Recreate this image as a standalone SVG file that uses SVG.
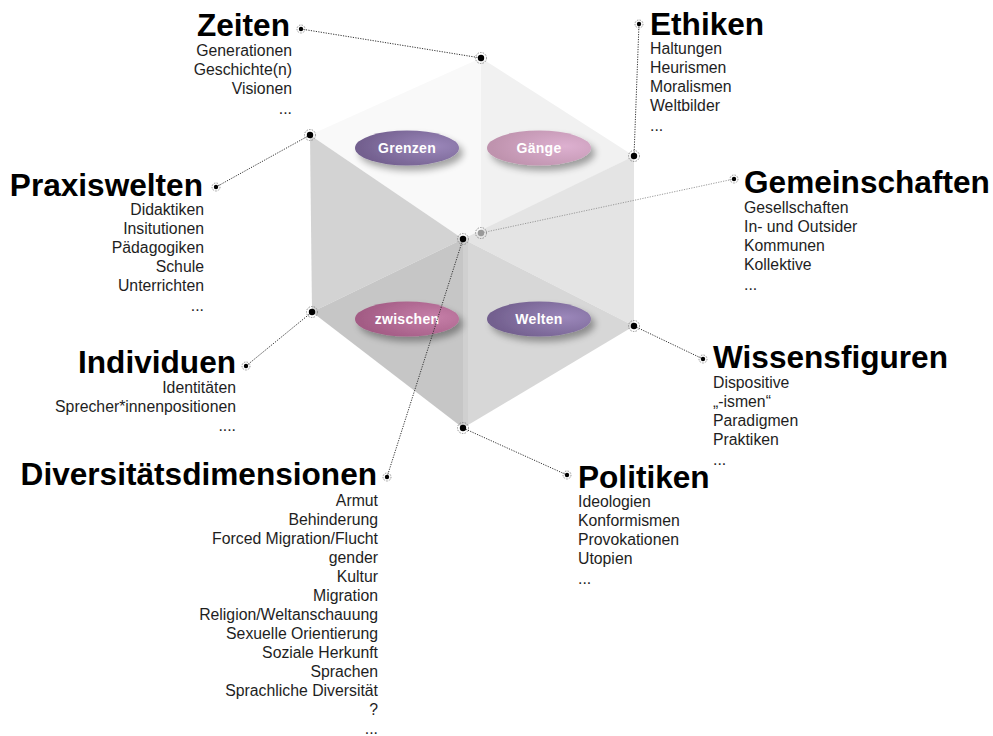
<svg xmlns="http://www.w3.org/2000/svg" width="993" height="736" viewBox="0 0 993 736">
<style>
.h{font-family:"Liberation Sans",Arial,sans-serif;font-weight:bold;font-size:31.6px;fill:#000}
.s{font-family:"Liberation Sans",Arial,sans-serif;font-size:15.8px;fill:#1e1e1e}
.e{text-anchor:end}
.el{font-family:"Liberation Sans",Arial,sans-serif;font-weight:bold;font-size:14px;fill:#fff;text-anchor:middle;letter-spacing:0.3px}
.c{fill:none;stroke:#333;stroke-width:1;stroke-dasharray:1.2 1.3}
.cg{fill:none;stroke:#9a9a9a;stroke-width:1;stroke-dasharray:1.2 1.3}
.ring{fill:none;stroke:#777;stroke-width:0.8;stroke-dasharray:1.5 1.2}
</style>
<defs>
<filter id="sh" x="-30%" y="-50%" width="160%" height="220%">
<feGaussianBlur in="SourceAlpha" stdDeviation="3.5"/>
<feOffset dx="4" dy="5" result="b"/>
<feComponentTransfer><feFuncA type="linear" slope="0.35"/></feComponentTransfer>
<feMerge><feMergeNode/><feMergeNode in="SourceGraphic"/></feMerge>
</filter>
<radialGradient id="gPur" cx="0.75" cy="0.45" r="0.7">
<stop offset="0" stop-color="#9b87ba"/><stop offset="1" stop-color="#73608f"/>
</radialGradient>
<radialGradient id="gPink" cx="0.75" cy="0.45" r="0.7">
<stop offset="0" stop-color="#ddb0d0"/><stop offset="1" stop-color="#bf93ae"/>
</radialGradient>
<radialGradient id="gMag" cx="0.75" cy="0.45" r="0.7">
<stop offset="0" stop-color="#c67fa8"/><stop offset="1" stop-color="#a35c85"/>
</radialGradient>
</defs>
<rect width="993" height="736" fill="#fff"/>

<g id="cube">
<polygon points="481,58 310,135 463,239 481,232" fill="#f9f9f9"/>
<polygon points="481,58 634,156 481,232" fill="#f1f1f1"/>
<polygon points="310,135 463,239 312,312" fill="#d3d3d3"/>
<polygon points="312,312 463,239 463,428" fill="#c6c6c6"/>
<polygon points="463,239 634,156 634,326" fill="#e4e4e4"/>
<polygon points="463,239 634,326 463,428" fill="#d7d7d7"/>
<polygon points="463,239 468,237 468,425 463,428" fill="#000" opacity="0.03"/>
</g>

<g id="grenzen">
<ellipse cx="407" cy="148" rx="52" ry="17.5" fill="url(#gPur)" filter="url(#sh)"/>
<text class="el" x="407" y="153">Grenzen</text>
</g>
<g id="gaenge">
<ellipse cx="539" cy="148" rx="52" ry="17.5" fill="url(#gPink)" filter="url(#sh)"/>
<text class="el" x="539" y="153">Gänge</text>
</g>
<g id="zwischen">
<ellipse cx="407" cy="319" rx="52" ry="17.5" fill="url(#gMag)" filter="url(#sh)"/>
<text class="el" x="407" y="324">zwischen</text>
</g>
<g id="welten">
<ellipse cx="539" cy="319" rx="52" ry="17.5" fill="url(#gPur)" filter="url(#sh)"/>
<text class="el" x="539" y="324">Welten</text>
</g>

<g id="connectors">
<line class="c" x1="301" y1="29" x2="481" y2="58"/>
<line class="c" x1="216" y1="187" x2="310" y2="135"/>
<line class="c" x1="246" y1="366" x2="312" y2="312"/>
<line class="c" x1="387" y1="477" x2="463" y2="239"/>
<line class="c" x1="639" y1="24" x2="634" y2="156"/>
<line class="cg" x1="734" y1="179" x2="481" y2="233"/>
<line class="c" x1="703" y1="359" x2="634" y2="326"/>
<line class="c" x1="567" y1="475" x2="463" y2="428"/>
</g>

<g id="dots">
<g fill="#000">
<circle cx="481" cy="58" r="3.2"/><circle cx="310" cy="135" r="3.2"/><circle cx="463" cy="239" r="3.2"/>
<circle cx="634" cy="156" r="3.2"/><circle cx="312" cy="312" r="3.2"/><circle cx="634" cy="326" r="3.2"/>
<circle cx="463" cy="428" r="3.2"/>
<circle cx="301" cy="29" r="2.2"/><circle cx="216" cy="187" r="2.2"/><circle cx="246" cy="366" r="2.2"/>
<circle cx="387" cy="477" r="2.2"/><circle cx="639" cy="24" r="2.2"/><circle cx="734" cy="179" r="2.2"/>
<circle cx="703" cy="359" r="2.2"/><circle cx="567" cy="475" r="2.2"/>
</g>
<circle cx="481" cy="233" r="3.2" fill="#999"/>
<g class="ring">
<circle cx="481" cy="58" r="5.5"/><circle cx="310" cy="135" r="5.5"/><circle cx="463" cy="239" r="5.5"/>
<circle cx="634" cy="156" r="5.5"/><circle cx="312" cy="312" r="5.5"/><circle cx="634" cy="326" r="5.5"/>
<circle cx="463" cy="428" r="5.5"/><circle cx="481" cy="233" r="5.5"/>
<circle cx="301" cy="29" r="4"/><circle cx="216" cy="187" r="4"/><circle cx="246" cy="366" r="4"/>
<circle cx="387" cy="477" r="4"/><circle cx="639" cy="24" r="4"/><circle cx="734" cy="179" r="4"/>
<circle cx="703" cy="359" r="4"/><circle cx="567" cy="475" r="4"/>
</g>
</g>

<g id="zeiten">
<text class="h e" x="290" y="36">Zeiten</text>
<text class="s e" x="292" y="56">Generationen</text>
<text class="s e" x="292" y="75">Geschichte(n)</text>
<text class="s e" x="292" y="94">Visionen</text>
<text class="s e" x="292" y="114">...</text>
</g>

<g id="praxiswelten">
<text class="h e" x="203" y="196">Praxiswelten</text>
<text class="s e" x="204" y="215">Didaktiken</text>
<text class="s e" x="204" y="234">Insitutionen</text>
<text class="s e" x="204" y="253">Pädagogiken</text>
<text class="s e" x="204" y="272">Schule</text>
<text class="s e" x="204" y="291">Unterrichten</text>
<text class="s e" x="204" y="311">...</text>
</g>

<g id="individuen">
<text class="h e" x="236" y="373">Individuen</text>
<text class="s e" x="236" y="393">Identitäten</text>
<text class="s e" x="236" y="412">Sprecher*innenpositionen</text>
<text class="s e" x="236" y="431">....</text>
</g>

<g id="diversitaetsdimensionen">
<text class="h e" x="377" y="485">Diversitätsdimensionen</text>
<text class="s e" x="378" y="506">Armut</text>
<text class="s e" x="378" y="525">Behinderung</text>
<text class="s e" x="378" y="544">Forced Migration/Flucht</text>
<text class="s e" x="378" y="563">gender</text>
<text class="s e" x="378" y="582">Kultur</text>
<text class="s e" x="378" y="601">Migration</text>
<text class="s e" x="378" y="620">Religion/Weltanschauung</text>
<text class="s e" x="378" y="639">Sexuelle Orientierung</text>
<text class="s e" x="378" y="658">Soziale Herkunft</text>
<text class="s e" x="378" y="677">Sprachen</text>
<text class="s e" x="378" y="696">Sprachliche Diversität</text>
<text class="s e" x="378" y="715">?</text>
<text class="s e" x="378" y="734">...</text>
</g>

<g id="ethiken">
<text class="h" x="650" y="35">Ethiken</text>
<text class="s" x="650" y="54">Haltungen</text>
<text class="s" x="650" y="73">Heurismen</text>
<text class="s" x="650" y="92">Moralismen</text>
<text class="s" x="650" y="111">Weltbilder</text>
<text class="s" x="650" y="131">...</text>
</g>

<g id="gemeinschaften">
<text class="h" x="744" y="193">Gemeinschaften</text>
<text class="s" x="744" y="213">Gesellschaften</text>
<text class="s" x="744" y="232">In- und Outsider</text>
<text class="s" x="744" y="251">Kommunen</text>
<text class="s" x="744" y="270">Kollektive</text>
<text class="s" x="744" y="290">...</text>
</g>

<g id="wissensfiguren">
<text class="h" x="713" y="368">Wissensfiguren</text>
<text class="s" x="713" y="388">Dispositive</text>
<text class="s" x="713" y="407">„-ismen“</text>
<text class="s" x="713" y="426">Paradigmen</text>
<text class="s" x="713" y="445">Praktiken</text>
<text class="s" x="713" y="465">...</text>
</g>

<g id="politiken">
<text class="h" x="578" y="488">Politiken</text>
<text class="s" x="578" y="507">Ideologien</text>
<text class="s" x="578" y="526">Konformismen</text>
<text class="s" x="578" y="545">Provokationen</text>
<text class="s" x="578" y="564">Utopien</text>
<text class="s" x="578" y="584">...</text>
</g>
</svg>
